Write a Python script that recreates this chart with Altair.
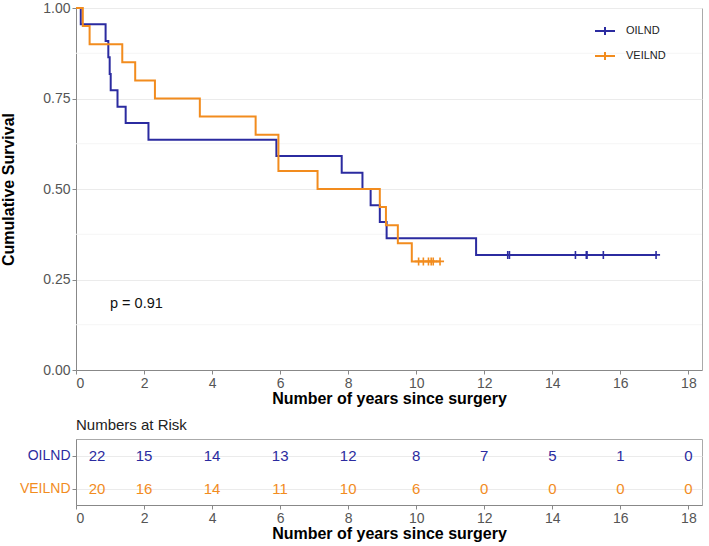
import altair as alt
import pandas as pd

BLUE = "#2B2BA0"
ORANGE = "#F28C1E"
groups = ["OILND", "VEILND"]

# Kaplan-Meier steps
oi_time = [0, 0.14, 0.87, 0.95, 0.99, 1.02, 1.22, 1.46, 2.13, 5.89, 7.81, 8.42, 8.66, 8.93, 9.13, 11.76, 17.05]
oi_surv = [1.0, 0.955, 0.909, 0.864, 0.818, 0.773, 0.727, 0.682, 0.636, 0.591, 0.545, 0.500, 0.455, 0.409, 0.364, 0.318, 0.318]
oi_cens = [12.69, 12.74, 14.68, 15.00, 15.02, 15.50, 17.05]
oi_cens_surv = 0.318

ve_time = [0, 0.20, 0.40, 1.36, 1.74, 2.32, 3.64, 5.28, 5.95, 7.10, 8.93, 9.11, 9.46, 9.87, 10.70]
ve_surv = [1.0, 0.95, 0.90, 0.85, 0.80, 0.75, 0.70, 0.65, 0.55, 0.50, 0.45, 0.40, 0.35, 0.30, 0.30]
ve_cens = [10.07, 10.21, 10.36, 10.44, 10.50, 10.70]
ve_cens_surv = 0.30

risk_times = [0, 2, 4, 6, 8, 10, 12, 14, 16, 18]
oi_risk = [22, 15, 14, 13, 12, 8, 7, 5, 1, 0]
ve_risk = [20, 16, 14, 11, 10, 6, 0, 0, 0, 0]

x_ticks = [0, 2, 4, 6, 8, 10, 12, 14, 16, 18]
y_ticks = [0, 0.25, 0.5, 0.75, 1.0]
minor_grid = [0.125, 0.375, 0.625, 0.875]
p_text = "p = 0.91"
p_time, p_surv = 1.0, 0.183

FONT = "Liberation Sans"
PLUS = "M-1,0L1,0M0,-1L0,1"
LEG_PLUS = "M-1,0L1,0M0,-0.4L0,0.4"

curve = pd.concat([
    pd.DataFrame({"group": "OILND", "time": oi_time, "surv": oi_surv}),
    pd.DataFrame({"group": "VEILND", "time": ve_time, "surv": ve_surv}),
])
cens = pd.concat([
    pd.DataFrame({"group": "OILND", "time": oi_cens, "surv": oi_cens_surv}),
    pd.DataFrame({"group": "VEILND", "time": ve_cens, "surv": ve_cens_surv}),
])
grid_df = pd.DataFrame({"surv": minor_grid})
p_df = pd.DataFrame({"time": [p_time], "surv": [p_surv], "label": [p_text]})
risk = pd.concat([
    pd.DataFrame({"group": "OILND", "time": risk_times, "n": oi_risk}),
    pd.DataFrame({"group": "VEILND", "time": risk_times, "n": ve_risk}),
])

xscale = alt.Scale(domain=[0, 18.4], nice=False, zero=False)
color_scale = alt.Scale(domain=groups, range=[BLUE, ORANGE])

legend = alt.Legend(
    title=None, orient="none", legendX=518, legendY=12,
    symbolType=LEG_PLUS, symbolSize=400, symbolStrokeWidth=2,
    labelFontSize=11, labelColor="#222", labelOffset=10, rowPadding=6,
    labelFont=FONT,
)

x_axis = alt.Axis(values=x_ticks, title="Number of years since surgery", grid=False,
                  labelFontSize=14, labelColor="#555", titleFontSize=16, titleFontWeight="bold",
                  titleColor="#000", tickColor="#888", domainColor="#888", tickSize=4,
                  labelPadding=2, titlePadding=0)

base_x = alt.X("time:Q", scale=xscale, axis=x_axis)
base_y = alt.Y("surv:Q", scale=alt.Scale(domain=[0, 1], nice=False),
               axis=alt.Axis(values=y_ticks, format=".2f", title="Cumulative Survival",
                             grid=True, gridColor="#ebebeb", labelFontSize=14, labelColor="#555",
                             titleFontSize=16, titleFontWeight="bold", titleColor="#000",
                             tickColor="#888", domainColor="#888", tickSize=4, titlePadding=26))

minor = alt.Chart(grid_df).mark_rule(color="#f5f5f5", strokeWidth=1).encode(y="surv:Q")

lines = alt.Chart(curve).mark_line(interpolate="step-after", strokeWidth=2).encode(
    x=base_x, y=base_y,
    color=alt.Color("group:N", scale=color_scale, legend=legend),
    order="time:Q",
)
points = alt.Chart(cens).mark_point(shape=PLUS, size=64, strokeWidth=1.6, filled=False, opacity=1).encode(
    x="time:Q", y="surv:Q",
    color=alt.Color("group:N", scale=color_scale, legend=legend),
)
ptext = alt.Chart(p_df).mark_text(align="left", baseline="middle", fontSize=14.5, color="#111", font=FONT).encode(
    x="time:Q", y="surv:Q", text="label:N")

main = alt.layer(minor, lines, points, ptext).properties(width=626, height=362)

risk_x_axis = alt.Axis(values=x_ticks, title="Number of years since surgery", grid=False,
                       labelFontSize=14, labelColor="#555", titleFontSize=16, titleFontWeight="bold",
                       titleColor="#000", tickColor="#888", domainColor="#888", tickSize=4,
                       labelPadding=2, titlePadding=0)

risk_chart = alt.Chart(risk).transform_calculate(
    xpos="max(datum.time, 0.62)"
).mark_text(fontSize=15, font=FONT).encode(
    x=alt.X("xpos:Q", scale=xscale, axis=risk_x_axis),
    y=alt.Y("group:N", sort=groups, scale=alt.Scale(paddingInner=0, paddingOuter=0.065),
            axis=alt.Axis(title=None, labelFontSize=14, grid=True, gridColor="#ebebeb",
                          tickColor="#888", domainColor="#888", tickSize=4,
                          labelColor={"condition": {"test": "datum.value == 'OILND'", "value": BLUE}, "value": ORANGE})),
    color=alt.Color("group:N", scale=color_scale, legend=None),
    text="n:Q",
).properties(width=626, height=66,
             title=alt.TitleParams("Numbers at Risk", anchor="start", fontSize=15, fontWeight="normal",
                                   color="#222", offset=6, frame="group", font=FONT))

chart = alt.vconcat(main, risk_chart, spacing=10).resolve_scale(color="independent").properties(
    padding={"left": 0, "top": 0, "right": 5, "bottom": 0}
).configure(font=FONT).configure_view(stroke="#aaaaaa", strokeWidth=1).configure_axis(
    labelFont=FONT, titleFont=FONT)

chart.save("out.html", embed_options={"renderer": "svg", "actions": False})
